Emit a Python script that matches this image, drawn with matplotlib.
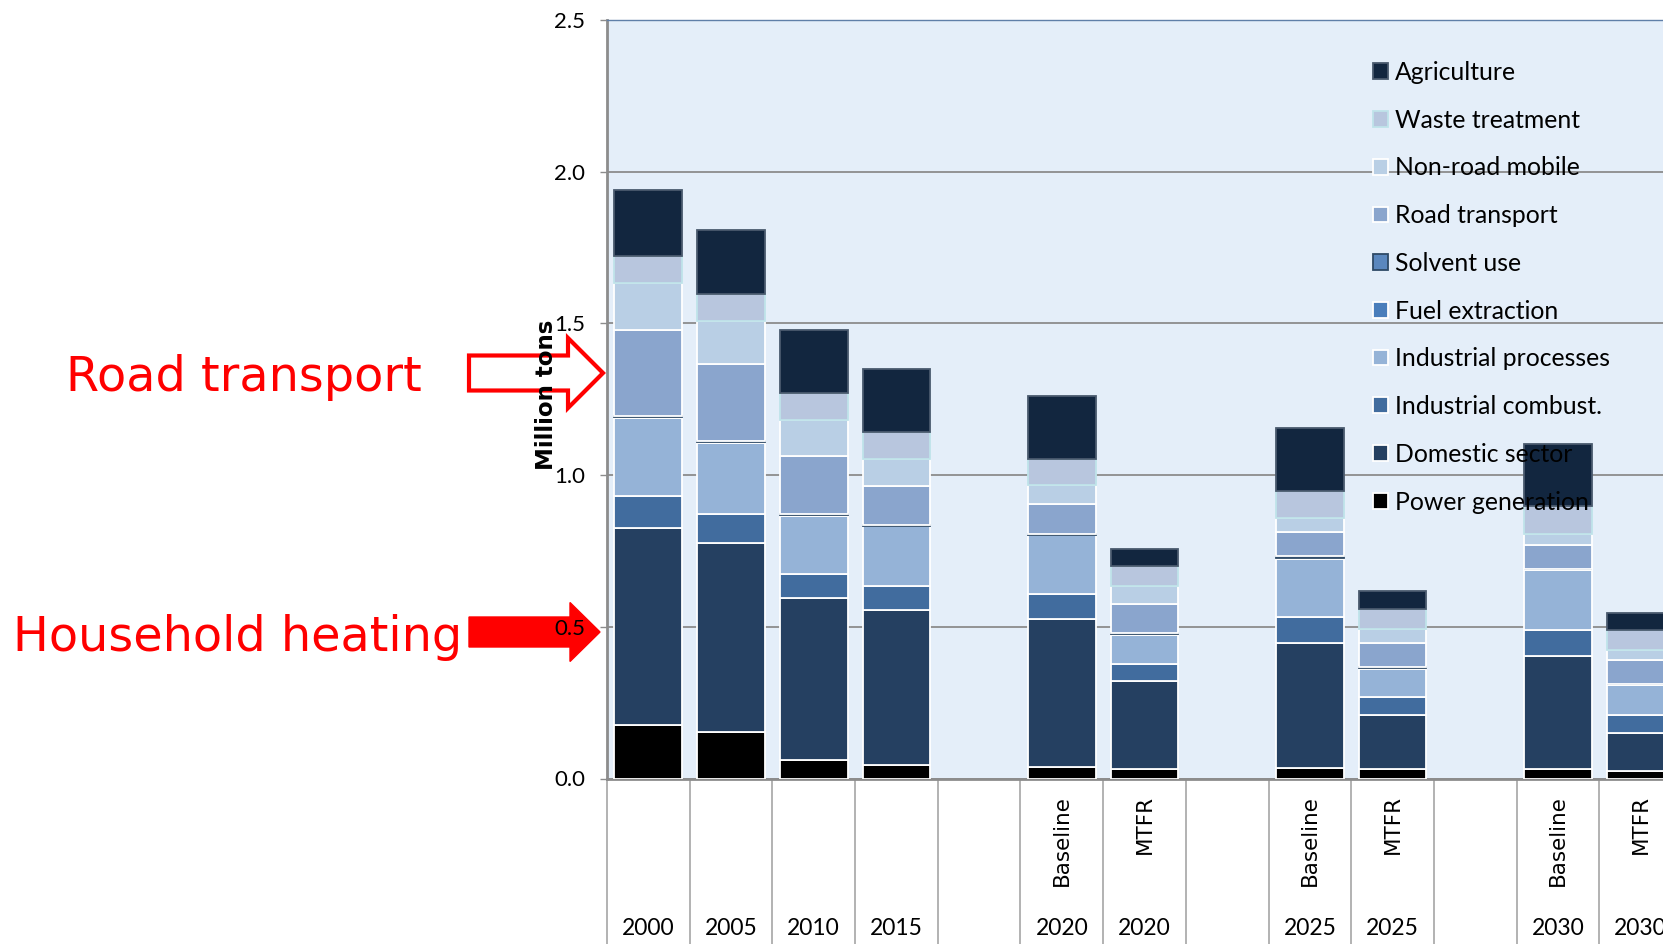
import numpy as np
import matplotlib
matplotlib.use("Agg")
import matplotlib.pyplot as plt
from matplotlib.patches import FancyArrow

# categories (gaps between the scenario groups are empty slots on the axis)
slots = [0, 1, 2, 3, 5, 6, 8, 9, 11, 12]
years = ["2000", "2005", "2010", "2015", "2020", "2020", "2025", "2025", "2030", "2030"]
scenarios = ["", "", "", "", "Baseline", "MTFR", "Baseline", "MTFR", "Baseline", "MTFR"]

# emissions by sector, million tons (stacked bottom to top)
power_generation = [0.177, 0.154, 0.060, 0.046, 0.038, 0.030, 0.036, 0.030, 0.032, 0.024]
domestic_sector = [0.647, 0.621, 0.536, 0.509, 0.488, 0.291, 0.409, 0.178, 0.372, 0.125]
industrial_combust = [0.108, 0.097, 0.078, 0.080, 0.083, 0.057, 0.087, 0.059, 0.086, 0.061]
industrial_processes = [0.257, 0.235, 0.192, 0.196, 0.192, 0.095, 0.192, 0.095, 0.197, 0.098]
fuel_extraction = [0.003, 0.003, 0.003, 0.002, 0.003, 0.002, 0.004, 0.003, 0.002, 0.002]
solvent_use = [0.003, 0.003, 0.003, 0.003, 0.003, 0.003, 0.004, 0.003, 0.003, 0.003]
road_transport = [0.283, 0.254, 0.191, 0.129, 0.097, 0.096, 0.081, 0.079, 0.079, 0.076]
non_road_mobile = [0.154, 0.141, 0.117, 0.087, 0.062, 0.062, 0.045, 0.046, 0.036, 0.034]
waste_treatment = [0.091, 0.090, 0.090, 0.090, 0.088, 0.063, 0.090, 0.067, 0.091, 0.066]
agriculture = [0.217, 0.210, 0.207, 0.208, 0.208, 0.059, 0.207, 0.059, 0.206, 0.058]

series = [
    ("Power generation", power_generation, "#000000", "white"),
    ("Domestic sector", domestic_sector, "#254061", "white"),
    ("Industrial combust.", industrial_combust, "#416C9E", "white"),
    ("Industrial processes", industrial_processes, "#95B3D7", "white"),
    ("Fuel extraction", fuel_extraction, "#4A7EBB", "white"),
    ("Solvent use", solvent_use, "#5A87BE", "#2E4A66"),
    ("Road transport", road_transport, "#8AA5CD", "white"),
    ("Non-road mobile", non_road_mobile, "#B9CFE5", "white"),
    ("Waste treatment", waste_treatment, "#B8C6DE", "#BFE3EA"),
    ("Agriculture", agriculture, "#12263F", "#4A5A6E"),
]

W, H = 1663, 944
fig = plt.figure(figsize=(W / 100, H / 100), dpi=100)

humanist = ["Lato", "DejaVu Sans"]

# red call-outs on the left, drawn in pixel coordinates
ov = fig.add_axes([0, 0, 1, 1])
ov.set_xlim(0, W)
ov.set_ylim(H, 0)
ov.axis("off")
ov.text(66, 391, "Road transport", color="red", fontsize=34.4, family="DejaVu Sans", va="baseline", ha="left")
ov.text(13, 651, "Household heating", color="red", fontsize=34.4, family="DejaVu Sans", va="baseline", ha="left")
ov.add_patch(FancyArrow(469, 373, 134, 0, width=35, head_width=70, head_length=35,
                        length_includes_head=True, facecolor="white", edgecolor="red", lw=3))
ov.add_patch(FancyArrow(469, 632, 131, 0, width=30, head_width=59, head_length=30,
                        length_includes_head=True, facecolor="red", edgecolor="red", lw=1))

ax = fig.add_axes([607 / W, (H - 778.5) / H, 1075 / W, 758.5 / H])
ax.set_facecolor("#E4EEF9")

bottom = np.zeros(len(slots))
handles = []
for name, vals, col, edge in series:
    vals = np.array(vals)
    b = ax.bar(slots, vals, bottom=bottom, width=0.82, color=col, edgecolor=edge,
               linewidth=1.3, label=name, zorder=3)
    handles.append(b)
    bottom += vals

ax.set_xlim(-0.5, 12.5)
ax.set_ylim(0, 2.5)
ax.set_yticks(np.arange(0, 2.51, 0.5))
ax.yaxis.set_major_formatter(matplotlib.ticker.FormatStrFormatter("%.1f"))
ax.grid(axis="y", color="#8C8C8C", lw=1.3, zorder=0)
ax.set_axisbelow(True)
ax.tick_params(axis="y", length=5, width=1, color="#8C8C8C", pad=10.5, labelsize=16)
for lbl in ax.get_yticklabels():
    lbl.set_family(humanist)

# long ticks at the slot boundaries act as the category separators
ax.set_xticks(np.arange(-0.5, 13, 1))
ax.tick_params(axis="x", length=125, width=1.2, color="#A6A6A6", labelbottom=False)

ax.spines["right"].set_visible(False)
ax.spines["top"].set_color("#5F7FA8")
ax.spines["top"].set_linewidth(1)
ax.spines["left"].set_color("#8C8C8C")
ax.spines["left"].set_linewidth(2)
ax.spines["bottom"].set_color("#8C8C8C")
ax.spines["bottom"].set_linewidth(2)

ax.set_ylabel("Million tons", fontsize=16.5, fontweight="bold", family="DejaVu Sans")
ax.yaxis.set_label_coords(-0.0567, 0.5056)
ax.yaxis.label.set_va("center")

tr = ax.get_xaxis_transform()
for x, yr, sc in zip(slots, years, scenarios):
    ax.text(x, -0.1984, yr, transform=tr, ha="center", va="center", fontsize=16.5, family=humanist)
    if sc:
        ax.text(x, -0.0218, sc, transform=tr, ha="center", va="top", rotation=90,
                fontsize=15.5, family="DejaVu Sans")

leg = ax.legend(handles[::-1], [s[0] for s in series][::-1], loc="upper left",
                bbox_to_anchor=(1373 / W, 1 - 61 / H), bbox_transform=fig.transFigure,
                frameon=False, borderpad=0, borderaxespad=0, handlelength=0.6,
                handleheight=0.6, handletextpad=0.3, labelspacing=1.0,
                prop={"family": humanist, "size": 17.8})

fig.savefig("out.png", dpi=100)
